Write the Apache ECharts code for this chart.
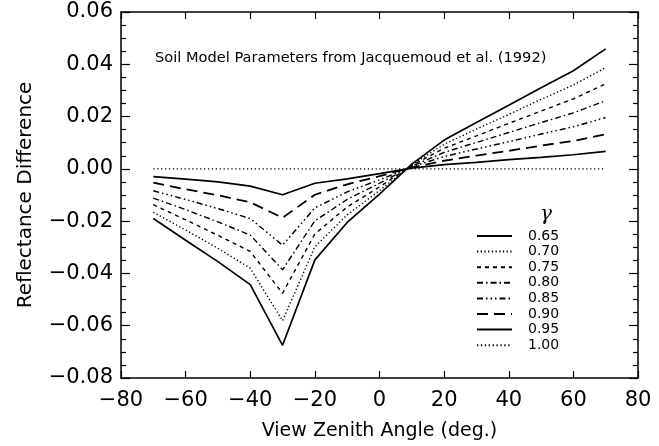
<!DOCTYPE html>
<html>
<head>
<meta charset="utf-8">
<script src="https://cdn.jsdelivr.net/npm/echarts@6/dist/echarts.min.js"></script>
<style>
html,body{margin:0;padding:0;background:#fff;}
#c{width:659px;height:446px;}
</style>
</head>
<body>
<div id="c"></div>
<script>
const angles = [-70, -60, -50, -40, -30, -20, -10, 0, 10, 20, 30, 40, 50, 60, 70];
const g065 = [-0.0190, -0.0273, -0.0355, -0.0443, -0.0675, -0.0348, -0.0205, -0.0097, 0.0018, 0.0110, 0.0177, 0.0243, 0.0310, 0.0375, 0.0459];
const g070 = [-0.0166, -0.0234, -0.0304, -0.0380, -0.0581, -0.0298, -0.0176, -0.0083, 0.0015, 0.0094, 0.0152, 0.0208, 0.0266, 0.0321, 0.0387];
const g075 = [-0.0137, -0.0195, -0.0254, -0.0316, -0.0476, -0.0249, -0.0146, -0.0069, 0.0013, 0.0079, 0.0126, 0.0174, 0.0221, 0.0268, 0.0325];
const g080 = [-0.0112, -0.0156, -0.0203, -0.0253, -0.0386, -0.0199, -0.0117, -0.0055, 0.0010, 0.0063, 0.0101, 0.0139, 0.0177, 0.0214, 0.0261];
const g085 = [-0.0084, -0.0117, -0.0152, -0.0190, -0.0292, -0.0149, -0.0088, -0.0042, 0.0008, 0.0047, 0.0076, 0.0104, 0.0133, 0.0161, 0.0196];
const g090 = [-0.0053, -0.0078, -0.0101, -0.0128, -0.0187, -0.0099, -0.0059, -0.0028, 0.0005, 0.0031, 0.0051, 0.0069, 0.0089, 0.0107, 0.0132];
const g095 = [-0.0030, -0.0039, -0.0050, -0.0066, -0.0099, -0.0055, -0.0038, -0.0018, 0.0003, 0.0016, 0.0025, 0.0035, 0.0044, 0.0054, 0.0067];
const g100 = [0, 0, 0, 0, 0, 0, 0, 0, 0, 0, 0, 0, 0, 0, 0];
const gammaNames = ['0.65', '0.70', '0.75', '0.80', '0.85', '0.90', '0.95', '1.00'];
const xTicks = [-80, -60, -40, -20, 0, 20, 40, 60, 80];
const yTicks = [-0.08, -0.06, -0.04, -0.02, 0.00, 0.02, 0.04, 0.06];

const FONT = 'DejaVu Sans';
const seriesValues = [g065, g070, g075, g080, g085, g090, g095, g100];
const styles = [
  {width: 1.7, type: 'solid'},
  {width: 1.4, type: [1.3, 2.4]},
  {width: 1.4, type: [4, 4]},
  {width: 1.4, type: [6, 3, 1.5, 3]},
  {width: 1.5, type: [6, 3, 1.5, 3, 1.5, 3, 1.5, 3]},
  {width: 1.8, type: [11, 6]},
  {width: 1.7, type: 'solid'},
  {width: 1.3, type: [1.3, 2.6]}
];

const series = seriesValues.map((vals, i) => ({
  name: gammaNames[i],
  type: 'line',
  symbol: 'none',
  animation: false,
  data: angles.map((a, j) => [a, vals[j]]),
  lineStyle: Object.assign({color: '#000', cap: 'butt'}, styles[i]),
  itemStyle: {color: '#000', opacity: 0}
}));

const fmtY = v => {
  const s = Math.abs(v) < 1e-9 ? '0.00' : Math.abs(v).toFixed(2);
  return (v < -1e-9 ? '\u2212' : '') + s;
};
const fmtX = v => (v < 0 ? '\u2212' : '') + Math.abs(v);

const lineAx = {show: true, onZero: false, lineStyle: {color: '#000', width: 1.5}};

const chart = echarts.init(document.getElementById('c'), null, {renderer: 'canvas'});
chart.setOption({
  animation: false,
  backgroundColor: '#fff',
  grid: {left: 121, right: 21, top: 12, bottom: 63},
  xAxis: [{
    type: 'value', min: -80, max: 80, interval: 20, position: 'bottom',
    axisLine: lineAx,
    axisTick: {show: true, inside: true, length: 7, lineStyle: {color: '#000', width: 1.2}},
    axisLabel: {color: '#000', fontSize: 21, fontFamily: FONT, margin: 12, formatter: fmtX},
    splitLine: {show: false},
    name: 'View Zenith Angle (deg.)', nameLocation: 'middle', nameGap: 44,
    nameTextStyle: {color: '#000', fontSize: 19, fontFamily: FONT}
  }, {
    type: 'value', min: -80, max: 80, interval: 20, position: 'top',
    axisLine: lineAx,
    axisTick: {show: true, inside: true, length: 7, lineStyle: {color: '#000', width: 1.2}},
    axisLabel: {show: false}, splitLine: {show: false}
  }],
  yAxis: [{
    type: 'value', min: -0.08, max: 0.06, interval: 0.02, position: 'left',
    axisLine: lineAx,
    axisTick: {show: true, inside: true, length: 9, lineStyle: {color: '#000', width: 1.2}},
    minorTick: {show: true, splitNumber: 4, length: 5, lineStyle: {color: '#000', width: 1.2}},
    axisLabel: {color: '#000', fontSize: 21, fontFamily: FONT, margin: 8, formatter: fmtY},
    splitLine: {show: false},
    name: 'Reflectance Difference', nameLocation: 'middle', nameGap: 85, nameRotate: 90,
    nameTextStyle: {color: '#000', fontSize: 20, fontFamily: FONT}
  }, {
    type: 'value', min: -0.08, max: 0.06, interval: 0.02, position: 'right',
    axisLine: lineAx,
    axisTick: {show: true, inside: true, length: 9, lineStyle: {color: '#000', width: 1.2}},
    minorTick: {show: true, splitNumber: 4, length: 5, lineStyle: {color: '#000', width: 1.2}},
    axisLabel: {show: false}, splitLine: {show: false}
  }],
  legend: {
    orient: 'vertical', left: 476, top: 229, padding: 0,
    itemWidth: 35, itemHeight: 14, itemGap: 1.6,
    data: gammaNames,
    itemStyle: {opacity: 0},
    textStyle: {color: '#000', fontSize: 14, lineHeight: 14, fontFamily: FONT, padding: [0, 0, 0, 11]},
    selectedMode: false
  },
  graphic: [{
    type: 'text', left: 155, top: 51,
    style: {text: 'Soil Model Parameters from Jacquemoud et al. (1992)', fill: '#000', font: '14.6px "DejaVu Sans"'}
  }, {
    type: 'text', left: 540, top: 205,
    style: {text: '\u03b3', fill: '#000', font: 'italic 20px "DejaVu Serif"'}
  }],
  series: series
});
</script>
</body>
</html>
